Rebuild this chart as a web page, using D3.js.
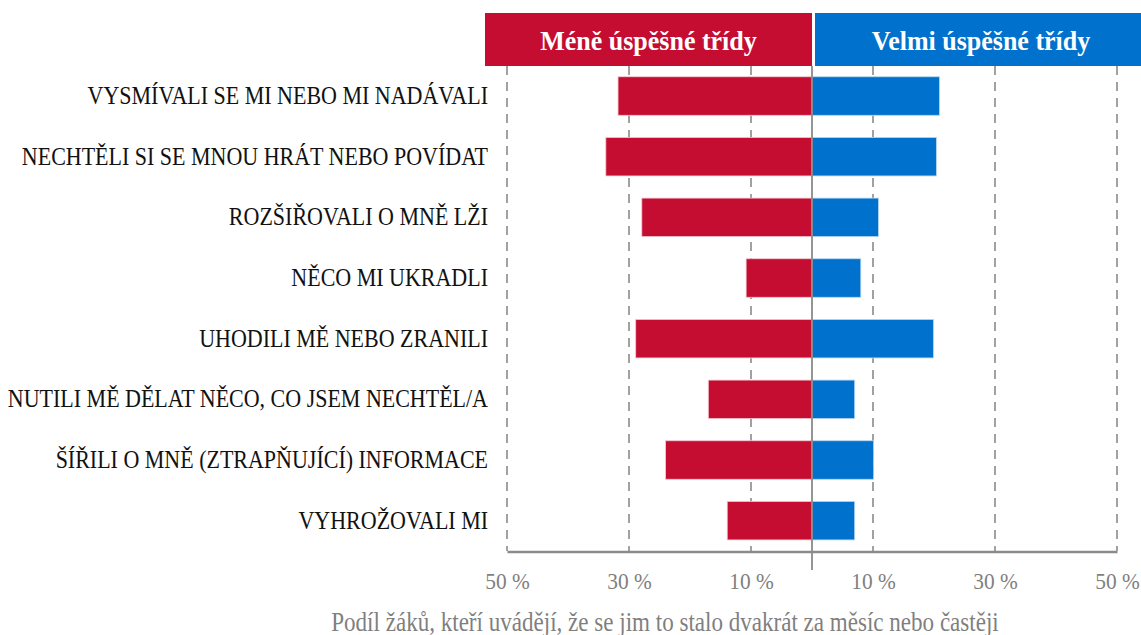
<!DOCTYPE html>
<html>
<head>
<meta charset="utf-8">
<script src="https://cdn.jsdelivr.net/npm/d3@7"></script>
<style>
  body { margin: 0; background: #fff; }
  svg { display: block; font-family: "Liberation Serif", "DejaVu Serif", serif; }
  svg text { font-family: "Liberation Serif", "DejaVu Serif", serif; }
</style>
</head>
<body>
<div id="chart"></div>
<script>
// categories (top to bottom)
const categories = [
  "VYSMÍVALI SE MI NEBO MI NADÁVALI",
  "NECHTĚLI SI SE MNOU HRÁT NEBO POVÍDAT",
  "ROZŠIŘOVALI O MNĚ LŽI",
  "NĚCO MI UKRADLI",
  "UHODILI MĚ NEBO ZRANILI",
  "NUTILI MĚ DĚLAT NĚCO, CO JSEM NECHTĚL/A",
  "ŠÍŘILI O MNĚ (ZTRAPŇUJÍCÍ) INFORMACE",
  "VYHROŽOVALI MI"
];
// % of pupils
const lessSuccessful = [31.8, 33.8, 27.9, 10.8, 28.9, 17.0, 24.0, 13.9];
const verySuccessful = [20.9, 20.4, 10.9, 8.0, 19.9, 7.0, 10.1, 7.0];
const groupNames = ["Méně úspěšné třídy", "Velmi úspěšné třídy"];
const tickValues = [-50, -30, -10, 10, 30, 50];
const axisTitle = "Podíl žáků, kteří uvádějí, že se jim to stalo dvakrát za měsíc nebo častěji";

const red = "#c50d31", blue = "#0072ce", grey = "#8a8a8a";

const W = 1141, H = 635;
const svg = d3.select("#chart").append("svg")
  .attr("width", W).attr("height", H);

const x = d3.scaleLinear().domain([-50, 50]).range([507, 1117]);
const y = d3.scaleBand().domain(categories).range([65.7, 551]).paddingInner(0.365).paddingOuter(0.1825);

// header boxes
const header = svg.append("g");
header.append("rect").attr("x", 485).attr("y", 13).attr("width", x(0) - 485).attr("height", 53)
  .attr("fill", red);
header.append("rect").attr("x", x(0) + 3).attr("y", 13).attr("width", W - x(0) - 3).attr("height", 53)
  .attr("fill", blue);
header.append("text")
  .attr("transform", "translate(" + (485 + x(0)) / 2 + ",50) scale(0.945,1)")
  .attr("text-anchor", "middle").attr("fill", "#fff")
  .style("font-size", "27.5px").style("font-weight", "bold").text(groupNames[0]);
header.append("text")
  .attr("transform", "translate(" + ((x(0) + 3 + W) / 2 + 3) + ",50) scale(0.945,1)")
  .attr("text-anchor", "middle").attr("fill", "#fff")
  .style("font-size", "27.5px").style("font-weight", "bold").text(groupNames[1]);

// dashed gridlines
svg.append("g").selectAll("line")
  .data(tickValues)
  .enter().append("line")
  .attr("x1", d => x(d)).attr("x2", d => x(d))
  .attr("y1", 66).attr("y2", 551)
  .attr("stroke", grey).attr("stroke-width", 1.6)
  .attr("stroke-dasharray", "9,7");

// bars
svg.append("g").selectAll("rect")
  .data(categories)
  .enter().append("rect")
  .attr("x", (d, i) => x(-lessSuccessful[i]))
  .attr("y", d => y(d))
  .attr("width", (d, i) => x(0) - x(-lessSuccessful[i]))
  .attr("height", y.bandwidth())
  .attr("fill", red).attr("stroke", "#f3c9d2").attr("stroke-width", 0.8);

svg.append("g").selectAll("rect")
  .data(categories)
  .enter().append("rect")
  .attr("x", x(0))
  .attr("y", d => y(d))
  .attr("width", (d, i) => x(verySuccessful[i]) - x(0))
  .attr("height", y.bandwidth())
  .attr("fill", blue).attr("stroke", "#b9d7f1").attr("stroke-width", 0.8);

// centre line
svg.append("line")
  .attr("x1", x(0)).attr("x2", x(0)).attr("y1", 66).attr("y2", 570)
  .attr("stroke", grey).attr("stroke-width", 1.8);

// bottom axis
const xAxis = d3.axisBottom(x).tickValues(tickValues).tickSize(0).tickPadding(21)
  .tickFormat(d => Math.abs(d) + " %");
const gx = svg.append("g").attr("transform", "translate(0,551.5)").call(xAxis);
gx.attr("font-family", null);
gx.select(".domain").attr("stroke", grey).attr("stroke-width", 2.5);
gx.selectAll("text").attr("fill", "#7f7f7f").style("font-size", "23px")
  .attr("transform", "scale(0.93,1)");

// category labels
const yAxis = d3.axisLeft(y).tickSize(0).tickPadding(0);
const gy = svg.append("g").attr("transform", "translate(488,0)").call(yAxis);
gy.attr("font-family", null);
gy.select(".domain").remove();
gy.selectAll("text").attr("fill", "#111").style("font-size", "25px")
  .attr("transform", "scale(0.88,1)");

// axis title
svg.append("text").attr("transform", "translate(665,631) scale(0.87,1)")
  .attr("text-anchor", "middle").attr("fill", "#7f7f7f")
  .style("font-size", "26.5px").text(axisTitle);
</script>
</body>
</html>
